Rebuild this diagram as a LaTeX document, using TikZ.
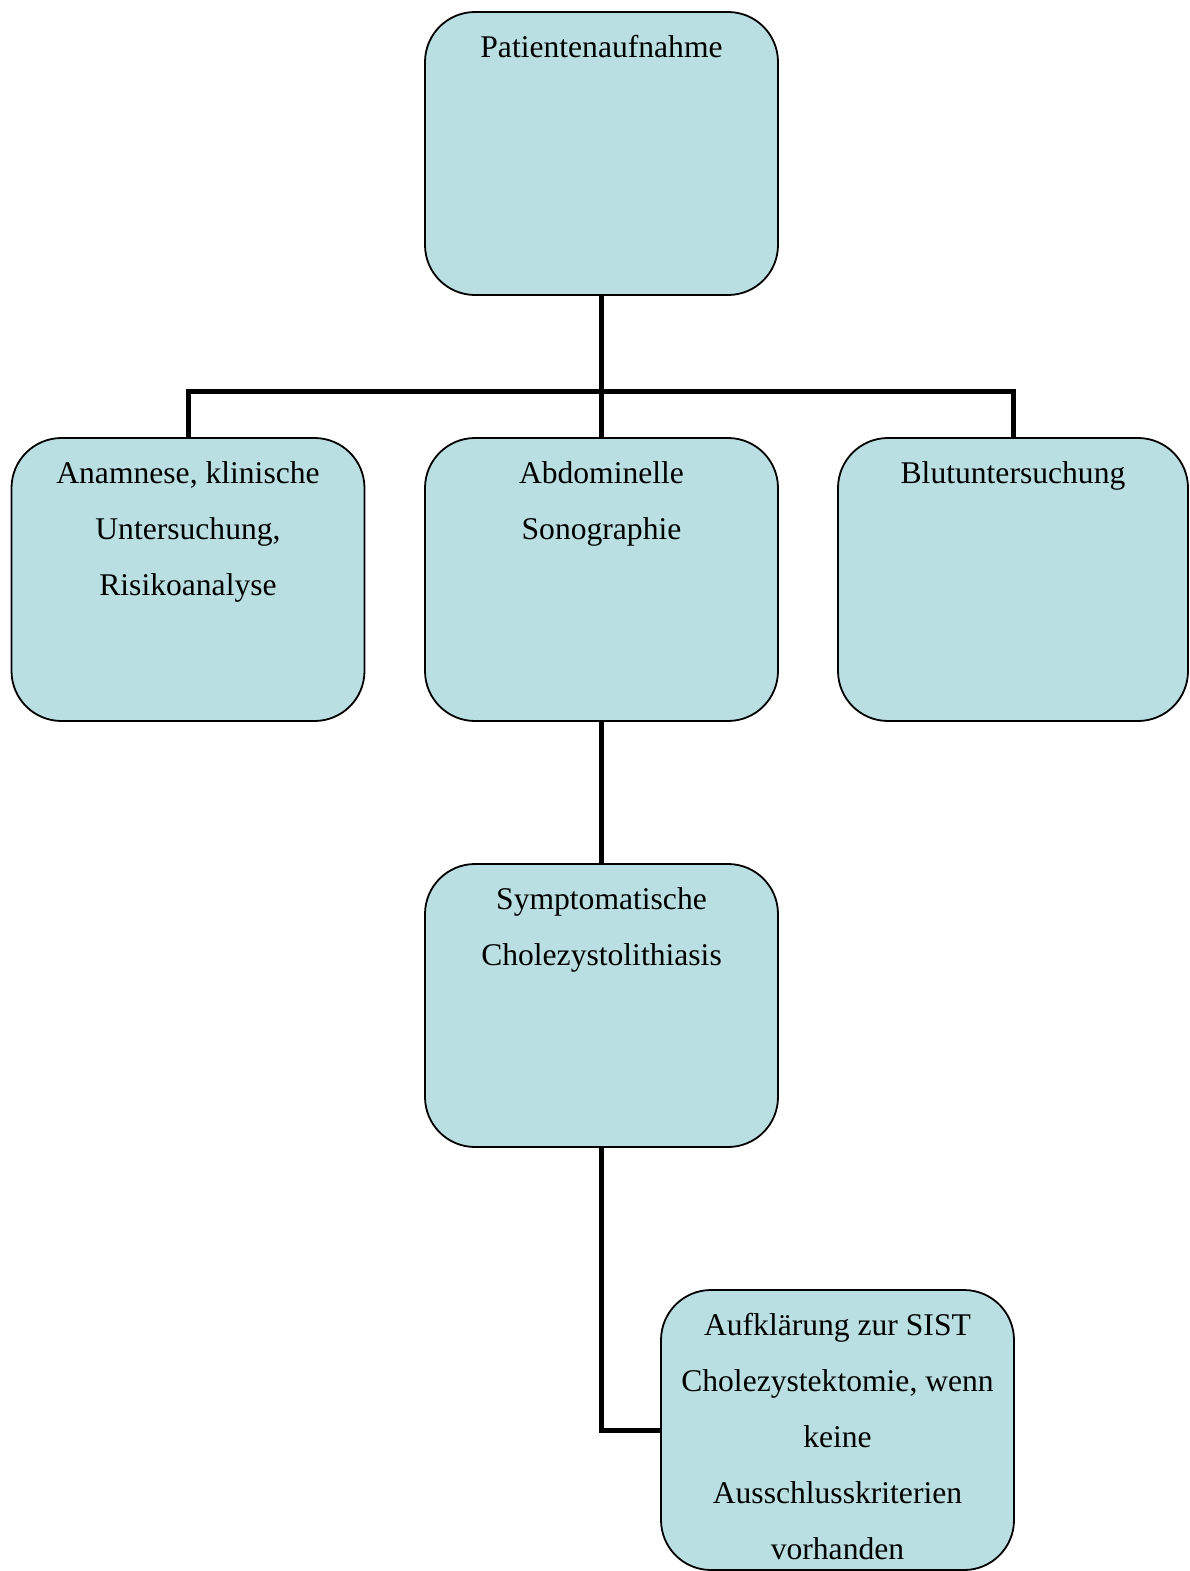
\documentclass[tikz,border=0pt]{standalone}
\usepackage{fontspec}
\setmainfont{Liberation Serif}
\definecolor{boxfill}{RGB}{185,223,227}
\begin{document}
\begin{tikzpicture}[x=1pt,y=-1pt,
  box/.style={draw=black, line width=1.8pt, fill=boxfill, rounded corners=50pt,
    minimum width=353pt, minimum height=283pt, inner sep=0pt, outer sep=0pt},
  lbl/.style={anchor=north, inner sep=0pt, align=center,
    font=\fontsize{31.6}{56}\selectfont},
  conn/.style={line width=5pt, draw=black, line join=miter}]
\useasboundingbox (0,0) rectangle (1189,1571);
\fill[white] (0,0) rectangle (1189,1571);
% boxes
\node[box] (b1) at (601.5,153.5) {};
\node[box] (b2) at (188,579.5) {};
\node[box] (b3) at (601.5,579.5) {};
\node[box, minimum width=350pt] (b4) at (1013,579.5) {};
\node[box] (b5) at (601.5,1005.5) {};
\node[box, minimum height=280pt] (b6) at (837.5,1430) {};
% connectors
\coordinate (j) at (601.5,391);
\draw[conn] (b1.south) -- (b3.north);
\draw[conn] (b2.north) |- (j) -| (b4.north);
\draw[conn] (b3.south) -- (b5.north);
\draw[conn] (b5.south) |- (b6.west);
% labels
\node[lbl] (t1) at ([yshift=-23pt]b1.north) {Patientenaufnahme};
\node[lbl] (t2) at ([yshift=-23pt]b2.north) {Anamnese, klinische\\Untersuchung,\\Risikoanalyse};
\node[lbl] (t3) at ([yshift=-23pt]b3.north) {Abdominelle\\Sonographie};
\node[lbl] (t4) at ([yshift=-23pt]b4.north) {Blutuntersuchung};
\node[lbl] (t5) at ([yshift=-23pt]b5.north) {Symptomatische\\Cholezystolithiasis};
\node[lbl] (t6) at ([yshift=-23pt]b6.north) {Aufklärung zur SIST\\Cholezystektomie, wenn\\keine\\Ausschlusskriterien\\vorhanden};
\end{tikzpicture}
\end{document}
